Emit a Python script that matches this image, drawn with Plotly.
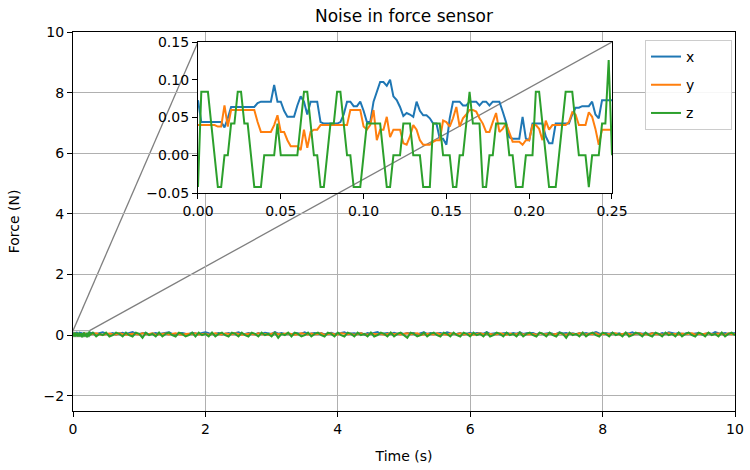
import numpy as np
import plotly.graph_objects as go

# ---------------- data ----------------
# inset window: samples every 2 ms from 0 to 0.25 s
t_inset = np.round(np.arange(126) * 0.002, 3)
x_inset = [0.073, 0.044, 0.044, 0.044, 0.044, 0.044, 0.044, 0.044, 0.037, 0.049,
           0.064, 0.064, 0.064, 0.064, 0.064, 0.064, 0.064, 0.064, 0.069, 0.071,
           0.071, 0.071, 0.071, 0.093, 0.071, 0.071, 0.059, 0.051, 0.051, 0.051,
           0.066, 0.078, 0.071, 0.054, 0.071, 0.071, 0.071, 0.044, 0.042, 0.042,
           0.042, 0.042, 0.042, 0.044, 0.054, 0.071, 0.071, 0.065, 0.065, 0.071,
           0.059, 0.044, 0.044, 0.071, 0.083, 0.097, 0.097, 0.092, 0.100, 0.078,
           0.073, 0.064, 0.052, 0.056, 0.054, 0.051, 0.071, 0.059, 0.053, 0.053,
           0.049, 0.042, 0.042, 0.022, 0.022, 0.014, 0.049, 0.071, 0.071, 0.071,
           0.066, 0.066, 0.071, 0.071, 0.071, 0.066, 0.071, 0.071, 0.066, 0.071,
           0.071, 0.071, 0.058, 0.044, 0.024, 0.022, 0.022, 0.022, 0.051, 0.022,
           0.020, 0.042, 0.042, 0.042, 0.042, 0.025, 0.016, 0.016, 0.042, 0.042,
           0.042, 0.042, 0.042, 0.054, 0.063, 0.063, 0.065, 0.065, 0.065, 0.071,
           0.054, 0.049, 0.073, 0.073, 0.073, 0.073]
y_inset = [0.040, 0.040, 0.040, 0.040, 0.040, 0.040, 0.038, 0.038, 0.066, 0.038,
           0.060, 0.060, 0.060, 0.060, 0.060, 0.060, 0.060, 0.060, 0.044, 0.031,
           0.031, 0.031, 0.031, 0.040, 0.053, 0.031, 0.031, 0.020, 0.012, 0.012,
           0.012, 0.007, 0.034, 0.010, 0.031, 0.034, 0.034, 0.040, 0.040, 0.040,
           0.040, 0.040, 0.040, 0.040, 0.040, 0.040, 0.060, 0.060, 0.060, 0.060,
           0.038, 0.034, 0.040, 0.060, 0.020, 0.034, 0.034, 0.051, 0.024, 0.034,
           0.034, 0.034, 0.016, 0.014, 0.025, 0.040, 0.034, 0.020, 0.014, 0.014,
           0.014, 0.018, 0.020, 0.020, 0.046, 0.044, 0.038, 0.049, 0.064, 0.038,
           0.049, 0.054, 0.060, 0.060, 0.058, 0.049, 0.042, 0.031, 0.031, 0.044,
           0.056, 0.031, 0.035, 0.042, 0.031, 0.018, 0.018, 0.018, 0.014, 0.020,
           0.020, 0.040, 0.040, 0.035, 0.020, 0.046, 0.034, 0.040, 0.040, 0.040,
           0.040, 0.040, 0.044, 0.057, 0.054, 0.040, 0.040, 0.040, 0.057, 0.051,
           0.035, 0.014, 0.034, 0.034, 0.034, 0.034]
z_inset = [-0.042, 0.084, 0.084, 0.084, 0.042, 0.000, -0.042, -0.042, 0.000, 0.000,
           0.042, 0.042, 0.084, 0.084, 0.042, 0.042, 0.000, -0.042, -0.042, -0.042,
           0.000, 0.000, 0.000, 0.000, 0.042, 0.000, 0.000, 0.000, 0.000, 0.000,
           0.000, 0.042, 0.084, 0.084, 0.042, 0.000, 0.000, -0.042, -0.042, 0.000,
           0.042, 0.042, 0.084, 0.084, 0.042, 0.000, 0.000, -0.042, -0.042, -0.042,
           0.000, 0.042, 0.042, 0.042, 0.042, 0.042, 0.000, -0.042, -0.042, 0.000,
           0.000, 0.000, 0.042, 0.042, 0.042, 0.000, 0.000, 0.000, -0.042, -0.042,
           -0.042, 0.042, 0.042, 0.042, 0.000, 0.000, 0.000, -0.042, -0.042, 0.000,
           0.000, 0.042, 0.084, 0.042, 0.042, 0.042, -0.042, -0.042, 0.000, 0.000,
           0.042, 0.042, 0.042, 0.042, 0.000, 0.000, -0.042, -0.042, -0.042, 0.000,
           0.000, 0.000, 0.084, 0.084, 0.042, 0.000, -0.042, -0.042, -0.042, 0.000,
           0.042, 0.084, 0.084, 0.084, 0.042, 0.000, 0.000, 0.000, -0.042, 0.000,
           0.000, 0.000, 0.042, 0.042, 0.126, 0.000]

# remainder of the 10 s record (coarser reading of the noise band, every 50 ms)
t_rest = np.round(np.arange(0.3, 10.001, 0.05), 2)
x_rest = [0.071, 0.044, 0.065, 0.097, 0.051, 0.042, 0.071, 0.022, 0.058, 0.078, 0.044, 0.071, 0.100, 0.049, 0.042,
          0.065, 0.071, 0.029, 0.051, 0.073, 0.042, 0.058, 0.071, 0.093, 0.044, 0.022, 0.065, 0.071, 0.049, 0.042,
          0.078, 0.058, 0.044, 0.071, 0.100, 0.065, 0.042, 0.051, 0.071, 0.022, 0.058, 0.073, 0.044, 0.065, 0.093,
          0.049, 0.042, 0.071, 0.058, 0.029, 0.071, 0.044, 0.078, 0.065, 0.042, 0.100, 0.051, 0.071, 0.044, 0.058,
          0.022, 0.071, 0.065, 0.049, 0.093, 0.042, 0.058, 0.073, 0.044, 0.071, 0.029, 0.065, 0.078, 0.042, 0.051,
          0.071, 0.097, 0.044, 0.058, 0.065, 0.042, 0.071, 0.022, 0.073, 0.049, 0.065, 0.100, 0.044, 0.058, 0.071,
          0.042, 0.078, 0.051, 0.065, 0.044, 0.071, 0.058, 0.073, 0.029, 0.065, 0.093, 0.042, 0.071, 0.049, 0.058,
          0.071, 0.044, 0.097, 0.065, 0.042, 0.051, 0.071, 0.022, 0.058, 0.078, 0.044, 0.071, 0.065, 0.049, 0.100,
          0.042, 0.058, 0.071, 0.029, 0.065, 0.073, 0.044, 0.071, 0.051, 0.093, 0.042, 0.065, 0.058, 0.071, 0.022,
          0.078, 0.044, 0.065, 0.071, 0.049, 0.042, 0.097, 0.058, 0.071, 0.044, 0.065, 0.029, 0.073, 0.051, 0.071,
          0.042, 0.065, 0.100, 0.058, 0.044, 0.071, 0.049, 0.078, 0.042, 0.065, 0.022, 0.071, 0.058, 0.093, 0.044,
          0.071, 0.051, 0.065, 0.042, 0.073, 0.058, 0.029, 0.071, 0.044, 0.097, 0.065, 0.049, 0.071, 0.042, 0.058,
          0.078, 0.044, 0.065, 0.071, 0.022, 0.058, 0.073, 0.044, 0.100, 0.065, 0.051, 0.071, 0.042, 0.058, 0.073]
y_rest = [0.040, 0.060, 0.031, 0.014, 0.040, 0.053, 0.034, 0.020, 0.060, 0.040, 0.012, 0.034, 0.051, 0.040, 0.024,
          0.060, 0.031, 0.040, 0.066, 0.014, 0.034, 0.040, 0.056, 0.020, 0.040, 0.060, 0.031, 0.012, 0.040, 0.051,
          0.034, 0.060, 0.024, 0.040, 0.046, 0.014, 0.040, 0.060, 0.034, 0.020, 0.056, 0.040, 0.031, 0.066, 0.040,
          0.012, 0.034, 0.051, 0.040, 0.020, 0.060, 0.034, 0.040, 0.014, 0.046, 0.060, 0.031, 0.040, 0.024, 0.056,
          0.040, 0.012, 0.034, 0.060, 0.040, 0.020, 0.051, 0.031, 0.040, 0.066, 0.014, 0.040, 0.056, 0.034, 0.024,
          0.060, 0.040, 0.031, 0.046, 0.012, 0.040, 0.060, 0.034, 0.020, 0.051, 0.040, 0.031, 0.056, 0.014, 0.040,
          0.060, 0.034, 0.046, 0.024, 0.040, 0.060, 0.031, 0.040, 0.066, 0.012, 0.034, 0.051, 0.040, 0.020, 0.060,
          0.031, 0.040, 0.014, 0.056, 0.040, 0.034, 0.060, 0.024, 0.040, 0.046, 0.012, 0.040, 0.060, 0.031, 0.051,
          0.040, 0.020, 0.034, 0.066, 0.040, 0.014, 0.056, 0.031, 0.040, 0.060, 0.024, 0.034, 0.046, 0.040, 0.012,
          0.060, 0.040, 0.031, 0.051, 0.020, 0.040, 0.060, 0.034, 0.014, 0.056, 0.040, 0.031, 0.066, 0.040, 0.024,
          0.046, 0.034, 0.060, 0.012, 0.040, 0.051, 0.031, 0.040, 0.060, 0.020, 0.034, 0.056, 0.040, 0.014, 0.046,
          0.060, 0.031, 0.040, 0.024, 0.066, 0.034, 0.040, 0.012, 0.051, 0.060, 0.031, 0.040, 0.020, 0.056, 0.034,
          0.040, 0.060, 0.014, 0.046, 0.031, 0.040, 0.066, 0.024, 0.034, 0.056, 0.040, 0.012, 0.060, 0.031, 0.040]
z_rest = [0.084, -0.042, 0.042, 0.000, 0.084, -0.042, 0.000, 0.084, 0.042, -0.042, 0.084, 0.000, -0.042, 0.084, 0.042,
          -0.084, 0.084, 0.000, 0.042, -0.042, 0.084, -0.042, 0.042, 0.084, 0.000, -0.042, 0.084, 0.042, -0.042, 0.000,
          0.084, -0.042, 0.084, 0.000, 0.042, -0.042, 0.084, -0.042, 0.042, 0.084, 0.000, -0.042, 0.084, 0.042, -0.042,
          0.084, 0.000, -0.042, 0.084, 0.042, -0.042, 0.084, 0.000, 0.042, -0.042, 0.084, -0.084, 0.042, 0.000, 0.084,
          -0.042, 0.084, 0.042, -0.042, 0.000, 0.084, -0.042, 0.042, 0.084, 0.000, -0.042, 0.084, 0.042, -0.042, 0.084,
          0.000, -0.042, 0.084, 0.042, -0.042, 0.084, 0.000, 0.042, -0.042, 0.084, -0.042, 0.000, 0.084, 0.042, -0.042,
          0.084, -0.042, 0.042, 0.084, 0.000, -0.084, 0.084, 0.042, -0.042, 0.000, 0.084, -0.042, 0.042, 0.084, 0.000,
          -0.042, 0.084, 0.042, -0.042, 0.084, 0.000, -0.042, 0.084, 0.042, -0.042, 0.084, 0.000, 0.042, -0.042, 0.084,
          -0.042, 0.000, 0.084, 0.042, -0.042, 0.084, 0.000, 0.042, -0.042, 0.084, -0.042, 0.042, 0.084, 0.000, -0.042,
          0.084, 0.042, -0.042, 0.084, 0.000, -0.042, 0.084, 0.042, -0.084, 0.084, 0.000, 0.042, -0.042, 0.084, -0.042,
          0.042, 0.084, 0.000, -0.042, 0.084, 0.042, -0.042, 0.084, 0.000, 0.042, -0.042, 0.084, -0.042, 0.000, 0.084,
          0.042, -0.042, 0.084, 0.000, -0.042, 0.084, 0.042, -0.042, 0.084, 0.000, 0.042, -0.042, 0.084, -0.042, 0.042,
          0.084, 0.000, -0.042, 0.084, 0.042, -0.042, 0.084, 0.000, 0.042, -0.042, 0.084, -0.042, 0.042, 0.084, 0.000]

series_names = ["x", "y", "z"]
colors = ["#1f77b4", "#ff7f0e", "#2ca02c"]

t_all = np.concatenate([t_inset, t_rest])
vals_all = [x_inset + x_rest, y_inset + y_rest, z_inset + z_rest]
vals_inset = [x_inset, y_inset, z_inset]

main_xr = [0, 10]
main_yr = [-2.5, 10]
inset_xr = [0, 0.25]
inset_yr = [-0.05, 0.15]
inset_dx = [0.1888, 0.8142]
inset_dy = [0.575, 0.9736]

FONT = "DejaVu Sans"
PAD = "\u00a0" * 7  # widens the legend box like matplotlib's
fig = go.Figure()

for name, col, v in zip(series_names, colors, vals_all):
    fig.add_trace(go.Scatter(x=t_all, y=v, mode="lines", name=name + PAD,
                             line=dict(color=col, width=2), legendgroup=name,
                             xaxis="x", yaxis="y"))
for name, col, v in zip(series_names, colors, vals_inset):
    fig.add_trace(go.Scatter(x=t_inset, y=v, mode="lines", name=name,
                             line=dict(color=col, width=2), showlegend=False,
                             xaxis="x2", yaxis="y2"))

# helper conversions paper <-> data
def p2main(px, py):
    return (main_xr[0] + px * (main_xr[1] - main_xr[0]),
            main_yr[0] + py * (main_yr[1] - main_yr[0]))

def main2p(x, y):
    return ((x - main_xr[0]) / (main_xr[1] - main_xr[0]),
            (y - main_yr[0]) / (main_yr[1] - main_yr[0]))

def p2inset(px, py):
    return (inset_xr[0] + (px - inset_dx[0]) / (inset_dx[1] - inset_dx[0]) * (inset_xr[1] - inset_xr[0]),
            inset_yr[0] + (py - inset_dy[0]) / (inset_dy[1] - inset_dy[0]) * (inset_yr[1] - inset_yr[0]))

gray = "#7f7f7f"
shapes = []
shapes.append(dict(type="rect", xref="x", yref="y", x0=inset_xr[0], x1=inset_xr[1],
                   y0=inset_yr[0], y1=inset_yr[1], line=dict(color="#b0b0b0", width=1.2),
                   layer="below"))
c_tl = p2main(inset_dx[0], inset_dy[1])
c_tr = p2main(inset_dx[1], inset_dy[1])
shapes.append(dict(type="line", xref="x", yref="y", x0=inset_xr[0], y0=inset_yr[1],
                   x1=c_tl[0], y1=c_tl[1], line=dict(color=gray, width=1.3), layer="below"))
shapes.append(dict(type="line", xref="x", yref="y", x0=inset_xr[1], y0=inset_yr[1],
                   x1=c_tr[0], y1=c_tr[1], line=dict(color=gray, width=1.3), layer="below"))
shapes.append(dict(type="rect", xref="x2", yref="y2", x0=inset_xr[0], x1=inset_xr[1],
                   y0=inset_yr[0], y1=inset_yr[1], fillcolor="white",
                   line=dict(width=0), layer="below"))
pa = main2p(inset_xr[1], inset_yr[1])
a = p2inset(*pa)
b = p2inset(inset_dx[1], inset_dy[1])
shapes.append(dict(type="line", xref="x2", yref="y2", x0=a[0], y0=a[1], x1=b[0], y1=b[1],
                   line=dict(color=gray, width=1.3), layer="below"))

axis_common = dict(showline=True, mirror=True, linecolor="black", linewidth=1.1,
                   ticks="outside", ticklen=5, tickcolor="black", tickwidth=1.1,
                   zeroline=False, automargin=False,
                   tickfont=dict(size=14, color="black", family=FONT))

fig.update_layout(
    width=750, height=470,
    margin=dict(l=73, r=15, t=32, b=59),
    paper_bgcolor="white", plot_bgcolor="white",
    font=dict(family=FONT, color="black", size=14),
    title=dict(text="Noise in force sensor", x=(73 + 662 / 2) / 750, xanchor="center",
               y=1 - 16 / 470, yanchor="middle", font=dict(size=17)),
    xaxis=dict(range=main_xr, tickvals=[0, 2, 4, 6, 8, 10], showgrid=True,
               gridcolor="#b0b0b0", gridwidth=1,
               title=dict(text="Time (s)", font=dict(size=14), standoff=15), **axis_common),
    yaxis=dict(range=main_yr, tickvals=[-2, 0, 2, 4, 6, 8, 10], showgrid=True,
               gridcolor="#b0b0b0", gridwidth=1,
               title=dict(text="Force (N)", font=dict(size=14), standoff=20), **axis_common),
    xaxis2=dict(range=inset_xr, domain=inset_dx, anchor="y2", showgrid=False,
                tickvals=[0, 0.05, 0.1, 0.15, 0.2, 0.25], tickformat=".2f", **axis_common),
    yaxis2=dict(range=inset_yr, domain=inset_dy, anchor="x2", showgrid=False,
                tickvals=[-0.05, 0, 0.05, 0.1, 0.15], tickformat=".2f", **axis_common),
    shapes=shapes,
    showlegend=True,
    legend=dict(x=0.9955, y=0.979, xanchor="right", yanchor="top",
                bgcolor="rgba(255,255,255,0.9)", bordercolor="#cccccc", borderwidth=1,
                font=dict(size=14), tracegroupgap=7, traceorder="grouped", itemwidth=30),
)

fig.write_html("out.html")
